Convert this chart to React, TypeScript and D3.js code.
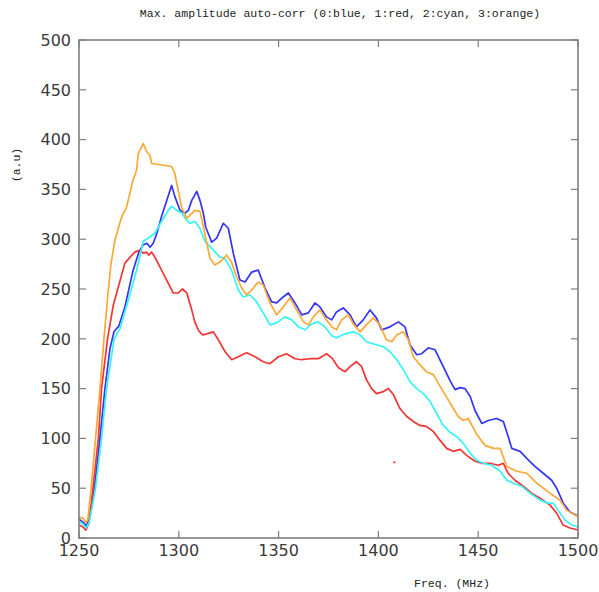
import React from "react";
import * as d3 from "d3";

// readings: [freq MHz, amplitude a.u.]
const blue: [number, number][] = [
  [1250, 19], [1252, 16], [1253.5, 12], [1255, 18], [1256.5, 35], [1258, 55], [1260.5, 100], [1263, 150],
  [1265.5, 190], [1267.5, 207], [1270, 213], [1273, 232], [1277, 268], [1280, 287], [1282, 294], [1284, 296],
  [1285.6, 292], [1287.2, 296], [1289, 306], [1291.4, 323], [1294, 339], [1296.4, 354], [1298, 343],
  [1300.6, 329], [1303, 326], [1304.8, 329], [1306.5, 339], [1309, 348], [1310.6, 339], [1312.3, 326],
  [1313.5, 312], [1316.5, 297], [1319, 301], [1322.3, 316], [1324.8, 311], [1327.3, 286], [1330.6, 259],
  [1333.2, 257], [1336.5, 267], [1339.8, 269], [1343.2, 251], [1346.5, 237], [1349, 236], [1352.3, 242],
  [1354.9, 246], [1358.2, 236], [1361.6, 224], [1364.9, 226], [1368.2, 236], [1370.7, 232], [1374, 222],
  [1376.6, 219], [1379, 227], [1382.4, 231], [1385.8, 224], [1389, 212], [1392.4, 219], [1395.8, 229],
  [1399, 221], [1401.6, 209], [1405.8, 212], [1410, 217], [1413.3, 212], [1415.8, 194], [1419.2, 184],
  [1421.7, 185], [1425, 191], [1428.4, 189], [1432.5, 172], [1435.9, 158], [1438.4, 149], [1441, 151],
  [1443.4, 150], [1446, 142], [1448.4, 128], [1451.8, 115], [1455, 118], [1459.2, 120], [1462.6, 117],
  [1465, 102], [1466.8, 90], [1471, 87], [1474.3, 80], [1478.4, 72], [1482.6, 65], [1486.8, 58],
  [1489.3, 50], [1492.6, 35], [1496, 26], [1500, 22],
];

const red: [number, number][] = [
  [1250, 13], [1252, 11], [1253.5, 8], [1255, 15], [1257, 50], [1259.7, 100], [1261.3, 150], [1264.3, 200],
  [1267.2, 234], [1269.7, 252], [1273, 276], [1275.6, 282], [1278, 287], [1280.6, 289], [1282.2, 286],
  [1283.9, 287], [1285, 284], [1286.4, 287], [1288, 282], [1290.6, 272], [1293.9, 259], [1297.2, 246],
  [1299.7, 246], [1301.8, 250], [1304, 246], [1306.5, 229], [1308, 217], [1310, 208], [1312, 204],
  [1314, 205], [1317.3, 207], [1319.8, 199], [1323.2, 187], [1326.5, 179], [1329.8, 182], [1334, 186],
  [1338.2, 182], [1342.3, 177], [1345.7, 175], [1349.9, 182], [1354, 185], [1358.2, 180], [1361.6, 179],
  [1365.7, 180], [1369.9, 180], [1374.1, 185], [1377, 180], [1380, 171], [1383.3, 167], [1385.8, 172],
  [1389, 177], [1391.6, 172], [1394, 159], [1396.6, 150], [1399, 145], [1402.5, 147], [1405, 150],
  [1407.5, 144], [1410.8, 130], [1414.2, 122], [1417.5, 117], [1420.8, 113], [1424, 112], [1427.5, 107],
  [1430.9, 98], [1434.2, 90], [1437.5, 87], [1441, 89], [1444.2, 83], [1448.4, 77], [1451.8, 75],
  [1456, 75], [1460, 73], [1462.6, 75], [1465, 65], [1468.4, 58], [1472.6, 52], [1476.7, 45], [1481, 40],
  [1486, 33], [1489.3, 25], [1492.6, 13], [1496, 10], [1500, 8],
];

const cyan: [number, number][] = [
  [1250, 16], [1252, 14], [1253.5, 10], [1255, 15], [1256.5, 30], [1258.3, 50], [1261.3, 100], [1263.8, 150],
  [1267.6, 200], [1270.5, 210], [1274.7, 239], [1278.9, 269], [1282.2, 298], [1284.7, 301], [1288, 306],
  [1291.4, 318], [1294.7, 329], [1296.4, 333], [1299, 329], [1301.5, 326], [1304, 319], [1305.6, 316],
  [1308, 318], [1310.6, 311], [1313, 298], [1314, 296], [1317.3, 289], [1320.6, 282], [1323, 281],
  [1326.4, 269], [1329.8, 249], [1332.3, 242], [1335.7, 244], [1339, 237], [1342.3, 226], [1345.7, 214],
  [1349, 216], [1353.2, 222], [1356.6, 219], [1359.9, 212], [1363.2, 209], [1366.6, 215], [1369.9, 217],
  [1373.2, 212], [1376.6, 203], [1379, 201], [1383.3, 205], [1387.4, 207], [1390.8, 204], [1394, 197],
  [1399, 194], [1402.5, 192], [1405.8, 187], [1409.2, 179], [1412.5, 169], [1415.8, 157], [1419.2, 150],
  [1422.5, 145], [1425.9, 137], [1429.2, 125], [1432.5, 113], [1435.9, 106], [1439.2, 102], [1442.5, 95],
  [1446, 85], [1449.3, 78], [1452.6, 75], [1456.8, 73], [1461, 67], [1464.3, 58], [1467.6, 55],
  [1471.8, 52], [1476, 45], [1481, 38], [1485, 35], [1487.6, 35], [1490, 28], [1493.5, 18], [1496.8, 13],
  [1500, 11],
];

const orange: [number, number][] = [
  [1250, 21], [1252, 20], [1253.5, 15], [1254.5, 20], [1256, 48], [1258.3, 100], [1260.5, 150],
  [1262.5, 200], [1264.5, 245], [1266, 275], [1268, 299], [1271.3, 322], [1273.8, 332], [1277, 359],
  [1278.8, 369], [1279.7, 386], [1282.2, 396], [1283.9, 388], [1285.6, 384], [1286.4, 376], [1290, 375],
  [1296.4, 373], [1298, 366], [1301.4, 332], [1304, 321], [1305.6, 324], [1308, 329], [1310.6, 328],
  [1313, 306], [1315.6, 281], [1318, 274], [1320.6, 277], [1324, 284], [1326.4, 277], [1329, 262],
  [1331.5, 251], [1334, 244], [1336.5, 249], [1339.8, 257], [1342.3, 254], [1345.7, 236], [1349, 224],
  [1352.3, 232], [1355.7, 241], [1359, 229], [1362.4, 217], [1364.9, 214], [1367.4, 222], [1370.7, 229],
  [1373.2, 221], [1376.6, 212], [1379, 209], [1381.6, 219], [1385, 224], [1387.4, 215], [1390.8, 207],
  [1394, 214], [1397.4, 221], [1400.8, 214], [1404, 199], [1406.7, 197], [1409.2, 204], [1412.5, 207],
  [1415, 199], [1417.5, 182], [1420.8, 174], [1424, 167], [1427.5, 164], [1431, 152], [1434, 142],
  [1437.5, 130], [1440, 122], [1442.5, 118], [1445, 120], [1449, 105], [1453.4, 93], [1457.6, 90],
  [1461, 90], [1464.3, 72], [1469.3, 67], [1474.3, 65], [1479.3, 55], [1486, 45], [1491, 38],
  [1494.3, 28], [1498.5, 23], [1500, 22],
];

const redDots: [number, number][] = [[1408, 76]];

const xTicks = [1250, 1300, 1350, 1400, 1450, 1500];
const yTicks = [0, 50, 100, 150, 200, 250, 300, 350, 400, 450, 500];

const series = [
  { data: blue, color: "#3434f4" },
  { data: red, color: "#f43434" },
  { data: cyan, color: "#34f4f4" },
  { data: orange, color: "#fca834" },
];

const W = 599;
const H = 592;
const left = 79, right = 578, top = 40, bottom = 538;

export default function App() {
  const x = d3.scaleLinear().domain([1250, 1500]).range([left, right]);
  const y = d3.scaleLinear().domain([0, 500]).range([bottom, top]);
  const line = d3
    .line<[number, number]>()
    .x((d) => x(d[0]))
    .y((d) => y(d[1]));

  const tickLen = 7;
  const axisColor = "#7f7f7f";
  const labelFont = "'DejaVu Sans', sans-serif";
  const monoFont = "'Liberation Mono', 'DejaVu Sans Mono', monospace";

  return (
    <svg
      width={W}
      height={H}
      style={{ position: "absolute", left: 0, top: 0, background: "#fff" }}
    >
      <rect x={0} y={0} width={W} height={H} fill="#fff" />
      <text x={340} y={17} textAnchor="middle" fontFamily={monoFont} fontSize={11.5} fill="#222">
        Max. amplitude auto-corr (0:blue, 1:red, 2:cyan, 3:orange)
      </text>

      {/* ticks, mirrored on all sides */}
      {yTicks.map((t) => (
        <g key={"y" + t}>
          <line x1={left} x2={left + tickLen} y1={y(t)} y2={y(t)} stroke={axisColor} strokeWidth={1.2} />
          <line x1={right} x2={right - tickLen} y1={y(t)} y2={y(t)} stroke={axisColor} strokeWidth={1.2} />
          <text x={left - 8} y={y(t)} dy="0.36em" textAnchor="end" fontFamily={labelFont} fontSize={16} fill="#3a3a3a">
            {t}
          </text>
        </g>
      ))}
      {xTicks.map((t) => (
        <g key={"x" + t}>
          <line x1={x(t)} x2={x(t)} y1={bottom} y2={bottom - tickLen} stroke={axisColor} strokeWidth={1.2} />
          <line x1={x(t)} x2={x(t)} y1={top} y2={top + tickLen} stroke={axisColor} strokeWidth={1.2} />
          <text x={x(t)} y={bottom + 18} textAnchor="middle" fontFamily={labelFont} fontSize={16} fill="#3a3a3a">
            {t}
          </text>
        </g>
      ))}

      {series.map((s, i) => (
        <path
          key={i}
          d={line(s.data) ?? ""}
          fill="none"
          stroke={s.color}
          strokeWidth={1.7}
          strokeLinejoin="round"
        />
      ))}
      {redDots.map((d, i) => (
        <circle key={i} cx={x(d[0])} cy={y(d[1])} r={1.1} fill="#f43434" />
      ))}

      <rect
        x={left}
        y={top}
        width={right - left}
        height={bottom - top}
        fill="none"
        stroke={axisColor}
        strokeWidth={1.6}
      />

      <text
        transform={`translate(20,165) rotate(-90)`}
        textAnchor="middle"
        fontFamily={monoFont}
        fontSize={11.5}
        fill="#222"
      >
        (a.u)
      </text>
      <text x={452} y={587} textAnchor="middle" fontFamily={monoFont} fontSize={11.5} fill="#222">
        Freq. (MHz)
      </text>
    </svg>
  );
}
